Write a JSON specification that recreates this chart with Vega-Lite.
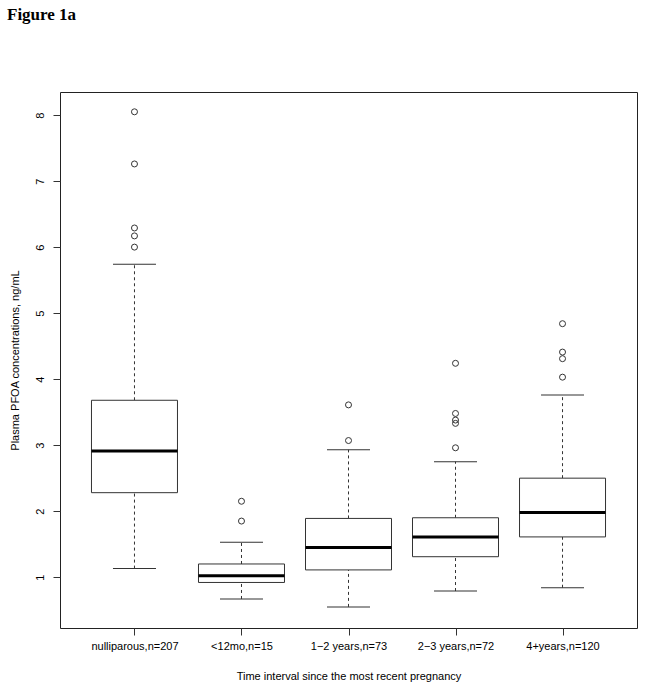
{
  "$schema": "https://vega.github.io/schema/vega-lite/v6.json",
  "width": 577,
  "height": 536,
  "autosize": {"type": "none"},
  "padding": {"left": 60, "top": 92, "right": 8, "bottom": 60},
  "background": "white",
  "title": {
    "text": "Figure 1a",
    "anchor": "start",
    "frame": "group",
    "dx": -53,
    "offset": 68,
    "font": "Liberation Serif",
    "fontSize": 17,
    "fontWeight": "bold",
    "color": "black"
  },
  "config": {
    "view": {"stroke": "#222", "strokeWidth": 1},
    "font": "Liberation Sans",
    "axis": {
      "grid": false,
      "domain": false,
      "tickColor": "#333",
      "tickSize": 7,
      "labelFontSize": 11,
      "labelColor": "black",
      "titleFontSize": 11,
      "titleFontWeight": "normal",
      "titleColor": "black"
    }
  },
  "datasets": {
    "boxes": [
      {"g": "nulliparous,n=207", "lo": 1.13, "q1": 2.28, "med": 2.91, "q3": 3.68, "hi": 5.74},
      {"g": "<12mo,n=15", "lo": 0.67, "q1": 0.92, "med": 1.02, "q3": 1.20, "hi": 1.53},
      {"g": "1−2 years,n=73", "lo": 0.55, "q1": 1.11, "med": 1.45, "q3": 1.89, "hi": 2.93},
      {"g": "2−3 years,n=72", "lo": 0.79, "q1": 1.31, "med": 1.61, "q3": 1.90, "hi": 2.75},
      {"g": "4+years,n=120", "lo": 0.84, "q1": 1.61, "med": 1.98, "q3": 2.50, "hi": 3.76}
    ],
    "outliers": [
      {"g": "nulliparous,n=207", "v": 8.05},
      {"g": "nulliparous,n=207", "v": 7.26},
      {"g": "nulliparous,n=207", "v": 6.29},
      {"g": "nulliparous,n=207", "v": 6.17},
      {"g": "nulliparous,n=207", "v": 6.00},
      {"g": "<12mo,n=15", "v": 2.15},
      {"g": "<12mo,n=15", "v": 1.85},
      {"g": "1−2 years,n=73", "v": 3.61},
      {"g": "1−2 years,n=73", "v": 3.07},
      {"g": "2−3 years,n=72", "v": 4.24},
      {"g": "2−3 years,n=72", "v": 3.48},
      {"g": "2−3 years,n=72", "v": 3.38},
      {"g": "2−3 years,n=72", "v": 3.33},
      {"g": "2−3 years,n=72", "v": 2.96},
      {"g": "4+years,n=120", "v": 4.84},
      {"g": "4+years,n=120", "v": 4.41},
      {"g": "4+years,n=120", "v": 4.31},
      {"g": "4+years,n=120", "v": 4.03}
    ]
  },
  "encoding": {
    "x": {
      "field": "g",
      "type": "nominal",
      "sort": ["nulliparous,n=207", "<12mo,n=15", "1−2 years,n=73", "2−3 years,n=72", "4+years,n=120"],
      "scale": {"type": "point", "padding": 0.696},
      "axis": {
        "title": "Time interval since the most recent pregnancy",
        "labelAngle": 0,
        "labelPadding": 5,
        "titleY": 48,
        "titleBaseline": "middle"
      }
    }
  },
  "layer": [
    {
      "data": {"name": "boxes"},
      "mark": {"type": "rule", "color": "#333", "strokeDash": [3, 3], "strokeWidth": 1},
      "encoding": {
        "y": {"field": "q3", "type": "quantitative", "scale": {"domain": [0.23, 8.35], "nice": false, "zero": false},
          "axis": {"title": "Plasma PFOA concentrations, ng/mL", "values": [1, 2, 3, 4, 5, 6, 7, 8], "labelAngle": 270, "labelAlign": "center", "labelBaseline": "bottom", "labelPadding": 8, "titleX": -45, "titleAngle": 270, "titleAlign": "center", "titleBaseline": "middle"}},
        "y2": {"field": "hi"}
      }
    },
    {
      "data": {"name": "boxes"},
      "mark": {"type": "rule", "color": "#333", "strokeDash": [3, 3], "strokeWidth": 1},
      "encoding": {
        "y": {"field": "lo", "type": "quantitative",
          "axis": {"title": "Plasma PFOA concentrations, ng/mL", "values": [1, 2, 3, 4, 5, 6, 7, 8], "labelAngle": 270, "labelAlign": "center", "labelBaseline": "bottom", "labelPadding": 8, "titleX": -45, "titleAngle": 270, "titleAlign": "center", "titleBaseline": "middle"}},
        "y2": {"field": "q1"}
      }
    },
    {
      "data": {"name": "boxes"},
      "mark": {"type": "tick", "color": "#333", "size": 43, "thickness": 1, "opacity": 1},
      "encoding": {
        "y": {"field": "hi", "type": "quantitative",
          "axis": {"title": "Plasma PFOA concentrations, ng/mL", "values": [1, 2, 3, 4, 5, 6, 7, 8], "labelAngle": 270, "labelAlign": "center", "labelBaseline": "bottom", "labelPadding": 8, "titleX": -45, "titleAngle": 270, "titleAlign": "center", "titleBaseline": "middle"}}
      }
    },
    {
      "data": {"name": "boxes"},
      "mark": {"type": "tick", "color": "#333", "size": 43, "thickness": 1, "opacity": 1},
      "encoding": {
        "y": {"field": "lo", "type": "quantitative",
          "axis": {"title": "Plasma PFOA concentrations, ng/mL", "values": [1, 2, 3, 4, 5, 6, 7, 8], "labelAngle": 270, "labelAlign": "center", "labelBaseline": "bottom", "labelPadding": 8, "titleX": -45, "titleAngle": 270, "titleAlign": "center", "titleBaseline": "middle"}}
      }
    },
    {
      "data": {"name": "boxes"},
      "mark": {"type": "bar", "size": 86, "fill": "white", "stroke": "#333", "strokeWidth": 1},
      "encoding": {
        "y": {"field": "q1", "type": "quantitative",
          "axis": {"title": "Plasma PFOA concentrations, ng/mL", "values": [1, 2, 3, 4, 5, 6, 7, 8], "labelAngle": 270, "labelAlign": "center", "labelBaseline": "bottom", "labelPadding": 8, "titleX": -45, "titleAngle": 270, "titleAlign": "center", "titleBaseline": "middle"}},
        "y2": {"field": "q3"}
      }
    },
    {
      "data": {"name": "boxes"},
      "mark": {"type": "tick", "color": "black", "size": 86, "thickness": 3, "opacity": 1},
      "encoding": {
        "y": {"field": "med", "type": "quantitative",
          "axis": {"title": "Plasma PFOA concentrations, ng/mL", "values": [1, 2, 3, 4, 5, 6, 7, 8], "labelAngle": 270, "labelAlign": "center", "labelBaseline": "bottom", "labelPadding": 8, "titleX": -45, "titleAngle": 270, "titleAlign": "center", "titleBaseline": "middle"}}
      }
    },
    {
      "data": {"name": "outliers"},
      "mark": {"type": "point", "shape": "circle", "filled": false, "size": 36, "stroke": "#333", "strokeWidth": 1, "opacity": 1},
      "encoding": {
        "y": {"field": "v", "type": "quantitative",
          "axis": {"title": "Plasma PFOA concentrations, ng/mL", "values": [1, 2, 3, 4, 5, 6, 7, 8], "labelAngle": 270, "labelAlign": "center", "labelBaseline": "bottom", "labelPadding": 8, "titleX": -45, "titleAngle": 270, "titleAlign": "center", "titleBaseline": "middle"}}
      }
    }
  ]
}
